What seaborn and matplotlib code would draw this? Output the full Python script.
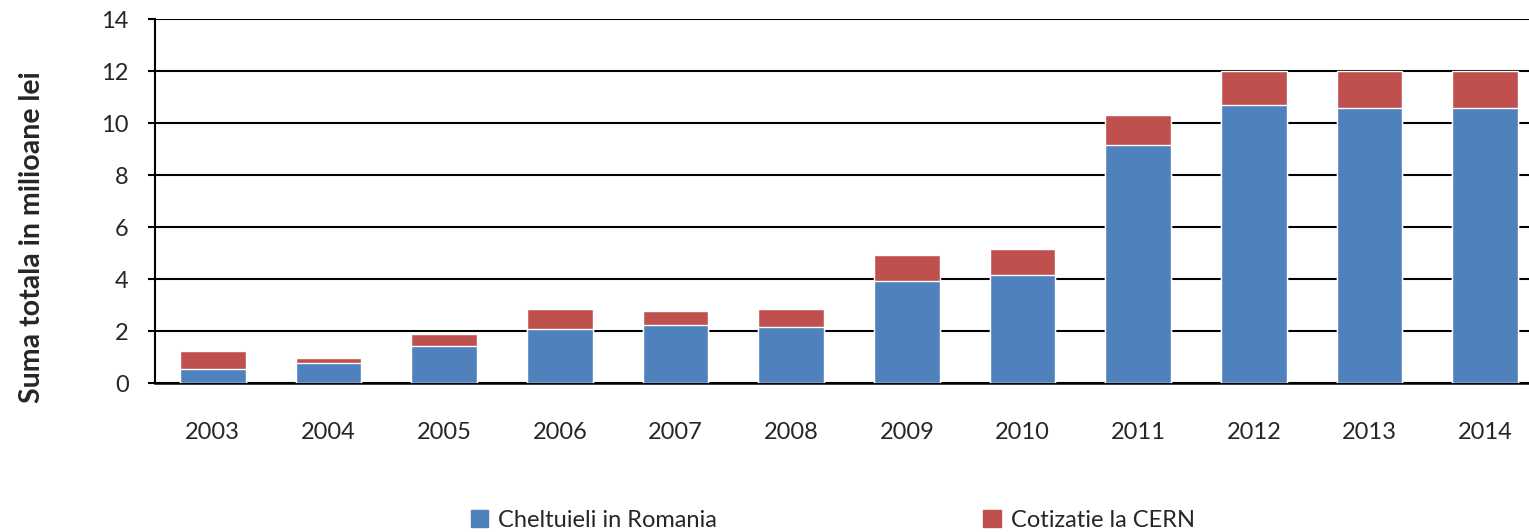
import pandas as pd
import matplotlib
matplotlib.use("Agg")
import matplotlib.pyplot as plt
import seaborn as sns
from matplotlib.patches import Patch

years = ["2003", "2004", "2005", "2006", "2007", "2008",
         "2009", "2010", "2011", "2012", "2013", "2014"]
cheltuieli = [0.53, 0.76, 1.44, 2.06, 2.22, 2.15, 3.94, 4.15, 9.15, 10.71, 10.56, 10.56]
cotizatie = [0.71, 0.22, 0.44, 0.79, 0.55, 0.70, 0.99, 1.00, 1.14, 1.29, 1.44, 1.44]

BLUE = "#4F81BD"
RED = "#C0504D"


def main():
    df = pd.DataFrame({"an": years, "cheltuieli": cheltuieli, "cotizatie": cotizatie})
    df["total"] = df["cheltuieli"] + df["cotizatie"]

    sns.set_theme(style="white")
    plt.rcParams["font.family"] = ["Lato", "DejaVu Sans"]

    fig = plt.figure(figsize=(15.29, 5.32), dpi=100)
    ax = fig.add_axes([155 / 1529, 1 - 383 / 532, 1388 / 1529, 364 / 532])

    sns.barplot(data=df, x="an", y="total", color=RED, width=0.57,
                saturation=1, ax=ax, zorder=3)
    sns.barplot(data=df, x="an", y="cheltuieli", color=BLUE, width=0.57,
                saturation=1, ax=ax, zorder=4)

    ax.set_ylim(0, 14)
    ax.set_xlim(-0.5, 11.5)
    ax.set_yticks(range(0, 15, 2))
    ax.grid(axis="y", color="black", linewidth=1.5, zorder=1)
    ax.set_axisbelow(True)
    for s in ["top", "right"]:
        ax.spines[s].set_visible(False)
    ax.spines["left"].set_color("black")
    ax.spines["left"].set_linewidth(1.5)
    ax.spines["bottom"].set_color("black")
    ax.spines["bottom"].set_linewidth(1.8)
    ax.tick_params(axis="y", left=True, length=5, width=1.5, color="black",
                   labelsize=17, pad=14)
    ax.tick_params(axis="x", bottom=False, labelsize=17, pad=22)
    ax.set_xlabel("")
    ax.set_ylabel("Suma totala in milioane lei", fontsize=20.5, fontweight="bold")
    ax.yaxis.set_label_coords(-0.079, 0.40)

    handles = [Patch(color=BLUE, label="Cheltuieli in Romania"),
               Patch(color=RED, label="Cotizatie la CERN")]
    fig.legend(handles=handles, loc="center", bbox_to_anchor=(0.5445, 0.022),
               ncol=2, frameon=False, fontsize=17, columnspacing=11.3,
               handlelength=0.75, handleheight=0.75, handletextpad=0.4)

    fig.savefig("out.png", dpi=100)


if __name__ == "__main__":
    main()
